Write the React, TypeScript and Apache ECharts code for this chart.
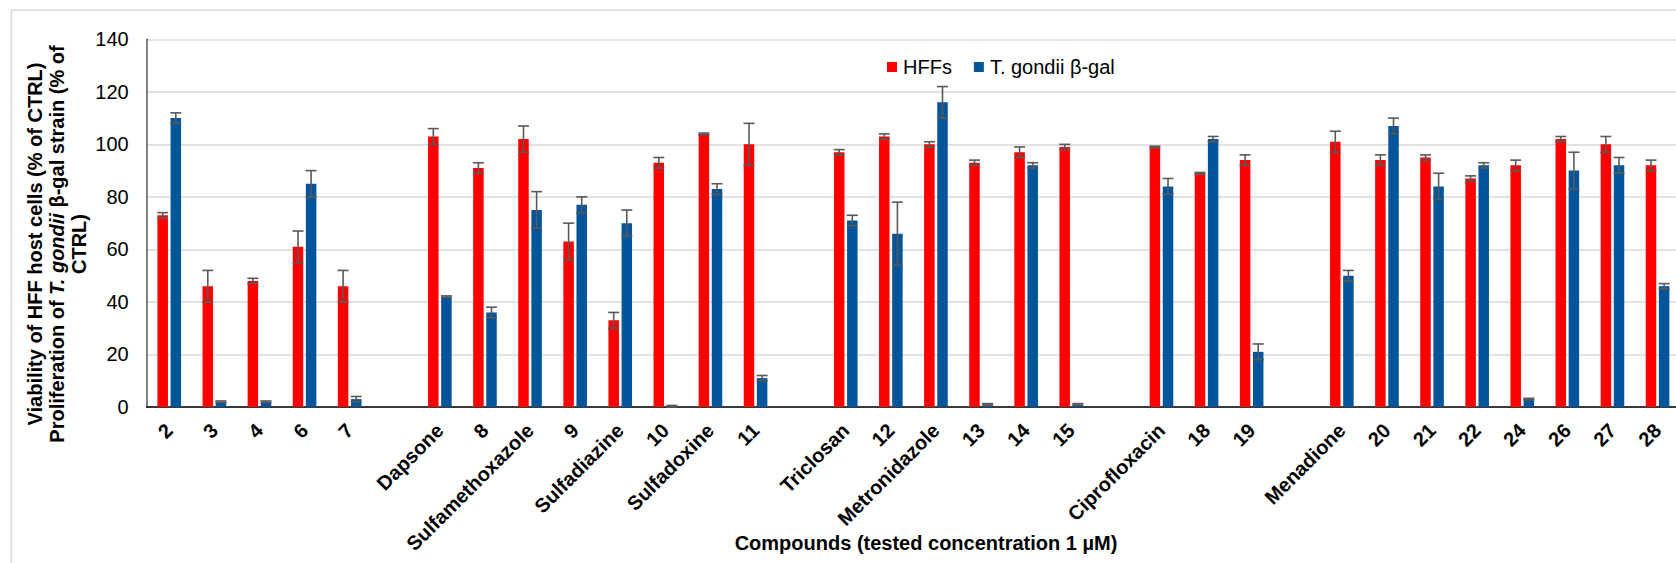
import React, { useEffect, useRef } from "react";
import * as echarts from "echarts";

const categories = ["2","3","4","6","7","","Dapsone","8","Sulfamethoxazole","9","Sulfadiazine","10","Sulfadoxine","11","","Triclosan","12","Metronidazole","13","14","15","","Ciprofloxacin","18","19","","Menadione","20","21","22","24","26","27","28"];
const hffs = [73,46,48,61,46,null,103,91,102,63,33,93,104,100,null,97,103,100,93,97,99,null,99,89,94,null,101,94,95,87,92,102,100,92];
const hffsErr = [1,6,1,6,6,null,3,2,5,7,3,2,0.3,8,null,1,1,1,1,2,1,null,0.3,0.3,2,null,4,2,1,1,2,1,3,2];
const tg = [110,2,2,85,3,null,42,36,75,77,70,0.3,83,11,null,71,66,116,1,92,1,null,84,102,21,null,50,107,84,92,3,90,92,46];
const tgErr = [2,0.3,0.3,5,1,null,0.3,2,7,3,5,0.3,2,1,null,2,12,6,0.3,1,0.3,null,3,1,3,null,2,3,5,1,0.3,7,3,1];
const yTicks = { min: 0, max: 140, interval: 20 };

const FONT = "'Liberation Sans', Arial, sans-serif";
const RED = "#FF0000";
const BLUE = "#02559A";
const BAR_W = 10.5;
const GAP = 2.625;
const OFF = (BAR_W + GAP) / 2;

function errData(vals: (number | null)[], errs: (number | null)[]) {
  const out: number[][] = [];
  vals.forEach((v, i) => {
    if (v != null && errs[i] != null) out.push([i, v, errs[i] as number]);
  });
  return out;
}

function errSeries(name: string, data: number[][], offset: number) {
  return {
    type: "custom",
    name,
    data,
    encode: { x: 0, y: 1 },
    z: 5,
    silent: true,
    renderItem: (params: any, api: any) => {
      const idx = api.value(0);
      const v = api.value(1);
      const e = api.value(2);
      const x = api.coord([idx, 0])[0] + offset;
      const yT = api.coord([idx, v + e])[1];
      const yB = api.coord([idx, Math.max(v - e, 0)])[1];
      const half = 5.5;
      const st = { stroke: "#595959", lineWidth: 1.6 };
      return {
        type: "group",
        children: [
          { type: "line", shape: { x1: x, y1: yT, x2: x, y2: yB }, style: st },
          { type: "line", shape: { x1: x - half, y1: yT, x2: x + half, y2: yT }, style: st },
          { type: "line", shape: { x1: x - half, y1: yB, x2: x + half, y2: yB }, style: st },
        ],
      };
    },
  };
}

export default function App() {
  const ref = useRef<HTMLDivElement>(null);
  useEffect(() => {
    if (!ref.current) return;
    const chart = echarts.init(ref.current, null, { renderer: "svg" });
    const bold = { fontFamily: FONT, fontSize: 20, fontWeight: "bold", color: "#000", lineHeight: 22 };
    chart.setOption({
      animation: false,
      backgroundColor: "#fff",
      grid: { left: 146.7, top: 39.3, width: 1533.4, height: 367.7, outerBoundsMode: "none" },
      legend: {
        data: ["HFFs", "T. gondii β-gal"],
        left: 887,
        top: 57,
        padding: 0,
        icon: "rect",
        itemWidth: 10,
        itemHeight: 10,
        itemGap: 22,
        textStyle: { fontFamily: FONT, fontSize: 20, color: "#000", padding: [0, 0, 0, 1] },
      },
      xAxis: {
        type: "category",
        data: categories,
        axisLine: { lineStyle: { color: "#000", width: 1.5 } },
        axisTick: { show: false },
        axisLabel: {
          interval: 0,
          rotate: 45,
          margin: 20,
          fontFamily: FONT,
          fontSize: 20,
          fontWeight: "bold",
          color: "#000",
        },
      },
      yAxis: {
        type: "value",
        min: yTicks.min,
        max: yTicks.max,
        interval: yTicks.interval,
        axisLine: { show: true, lineStyle: { color: "#595959", width: 1.5 } },
        axisTick: { show: false },
        splitLine: { lineStyle: { color: "#d9d9d9", width: 1.5 } },
        axisLabel: { margin: 18, fontFamily: FONT, fontSize: 20, color: "#000" },
      },
      graphic: [
        {
          type: "rect",
          z: -10,
          shape: { x: 11.5, y: 10, width: 1720, height: 620 },
          style: { fill: "none", stroke: "#d9d9d9", lineWidth: 1.5 },
        },
        {
          type: "text",
          x: 57,
          y: 244,
          rotation: Math.PI / 2,
          style: {
            text:
              "{b|Viability of HFF host cells (% of CTRL)}\n{b|Proliferation of }{bi|T. gondii}{b| β-gal strain (% of}\n{b|CTRL)}",
            align: "center",
            verticalAlign: "middle",
            rich: {
              b: bold,
              bi: { ...bold, fontStyle: "italic" },
            },
          },
        },
        {
          type: "text",
          x: 926,
          y: 543,
          style: {
            text: "Compounds (tested concentration 1 µM)",
            align: "center",
            verticalAlign: "middle",
            fontFamily: FONT,
            fontSize: 20,
            fontWeight: "bold",
            fill: "#000",
          },
        },
      ],
      series: [
        {
          type: "bar",
          name: "HFFs",
          data: hffs,
          barWidth: BAR_W,
          barGap: "25%",
          itemStyle: { color: RED },
        },
        {
          type: "bar",
          name: "T. gondii β-gal",
          data: tg,
          barWidth: BAR_W,
          barGap: "25%",
          itemStyle: { color: BLUE },
        },
        errSeries("errH", errData(hffs, hffsErr), -OFF),
        errSeries("errT", errData(tg, tgErr), OFF),
      ],
    });
    return () => chart.dispose();
  }, []);
  return (
    <div style={{ position: "fixed", left: 0, top: 0, width: 1676, height: 563, overflow: "hidden", background: "#fff" }}>
      <div ref={ref} style={{ width: 1700, height: 563 }} />
    </div>
  );
}
